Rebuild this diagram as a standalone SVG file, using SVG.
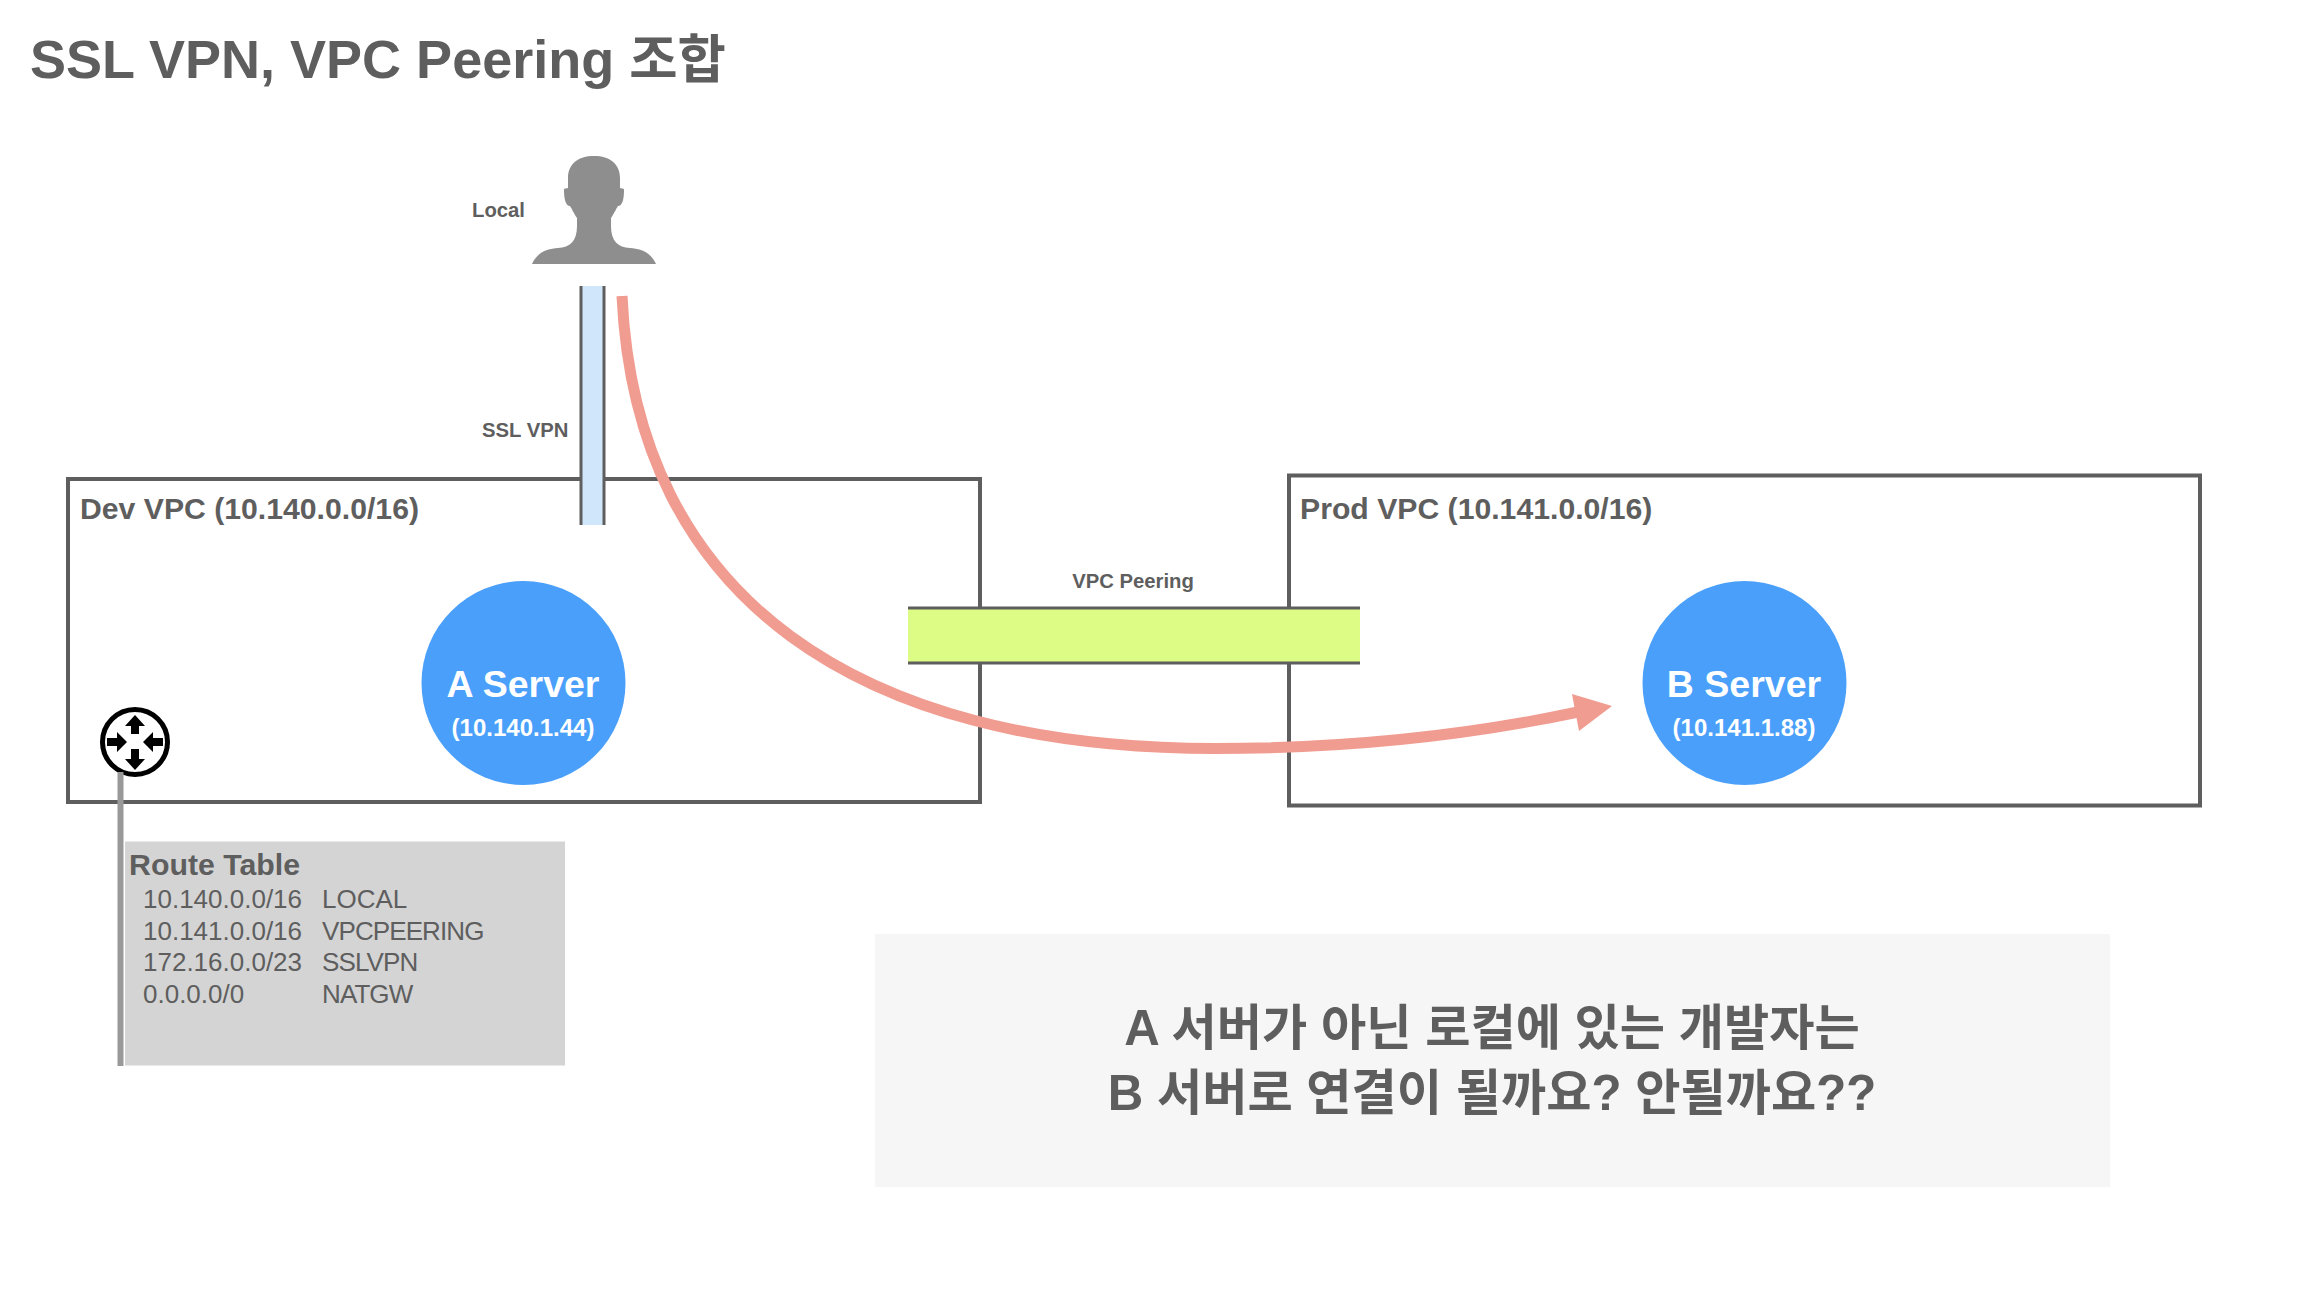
<svg xmlns="http://www.w3.org/2000/svg" width="2312" height="1290" viewBox="0 0 2312 1290">
<defs><style>
text{font-family:"Liberation Sans","Noto Sans CJK KR",sans-serif;fill:#5e5e5e}
.b{font-weight:700}
.vpc{fill:none;stroke:#5e5e5e;stroke-width:4}
.edge{stroke:#5e5e5e;stroke-width:3;fill:none}
.srv{fill:#4a9ffb}
.w{font-weight:700;text-anchor:middle}
.rt{font-size:26px}
.rn{font-size:26px;letter-spacing:-.9px}
.ra{fill:#000;stroke:none}
</style></defs>
<rect width="2312" height="1290" fill="#fff"/>
<text class="b" x="30" y="78" font-size="54">SSL VPN, VPC Peering <tspan font-size="52.500">조합</tspan></text>
<g id="dev-vpc"><rect class="vpc" x="68" y="479" width="912" height="323"/><text class="b" x="80" y="519" font-size="30.200">Dev VPC (10.140.0.0/16)</text></g>
<g id="prod-vpc"><rect class="vpc" x="1289" y="475.500" width="911" height="330"/><text class="b" x="1300" y="519" font-size="30.200">Prod VPC (10.141.0.0/16)</text></g>
<g id="local"><path fill="#8e8e8e" d="M532 264C538 251 548 249 558 248C570 247.500 577 241 577 226L577 218C573 212 572 209 570 206C566 206 564 200 564 190C564 188 565 189 568 188L568 178C568 164 578 156 594 156C610 156 620 164 620 178L620 188C623 189 624 188 624 190C624 200 622 206 618 206C616 209 615 212 611 218L611 226C611 241 618 247.500 630 248C640 249 650 251 656 264Z"/><text class="b" x="472" y="217" font-size="20.300">Local</text></g>
<g id="ssl-vpn"><rect x="580" y="286" width="24" height="239" fill="#d0e6fb"/><path class="edge" d="M581 286V525M604 286V525"/><text class="b" x="482" y="437" font-size="20.300">SSL VPN</text></g>
<g id="a-server"><circle class="srv" cx="523.500" cy="683" r="102"/><text class="w" x="523" y="697" font-size="37.500" style="fill:#fff">A Server</text><text class="w" x="523" y="736" font-size="24" style="fill:#fff">(10.140.1.44)</text></g>
<g id="b-server"><circle class="srv" cx="1744.500" cy="683" r="102"/><text class="w" x="1744" y="697" font-size="37.500" style="fill:#fff">B Server</text><text class="w" x="1744" y="736" font-size="24" style="fill:#fff">(10.141.1.88)</text></g>
<g id="vpc-peering"><rect x="908" y="608" width="452" height="55" fill="#dcfc85"/><path d="M908 608H1360M908 663H1360" stroke="#5e5e5e" stroke-width="3" fill="none"/><text class="b" x="1133" y="588" font-size="20.300" text-anchor="middle">VPC Peering</text></g>
<g id="router"><circle cx="135" cy="742" r="32.500" fill="#fff" stroke="#000" stroke-width="5"/><path class="ra" d="M135 715L145 726H139V734H131V726H125ZM135 770L145 759H139V749H131V759H125ZM127 742L117 732V738H107V746H117V752ZM143 742L153 732V738H163V746H153V752Z"/></g>
<g id="route-table"><rect x="125" y="841.500" width="440" height="224" fill="#d4d4d4"/><text class="b" x="129" y="875" font-size="30.300">Route Table</text>
<text class="rt" x="143" y="908">10.140.0.0/16</text><text class="rt" x="322" y="908">LOCAL</text>
<text class="rt" x="143" y="940">10.141.0.0/16</text><text class="rn" x="322" y="940">VPCPEERING</text>
<text class="rt" x="143" y="971">172.16.0.0/23</text><text class="rn" x="322" y="971">SSLVPN</text>
<text class="rt" x="143" y="1003">0.0.0.0/0</text><text class="rn" x="322" y="1003">NATGW</text></g>
<g id="question"><rect x="875" y="934" width="1235" height="253" fill="#f6f6f6"/><text class="b" x="1492" y="1045" font-size="49.200" text-anchor="middle">A 서버가 아닌 로컬에 있는 개발자는</text><text class="b" x="1492" y="1110" font-size="49.200" text-anchor="middle">B 서버로 연결이 될까요? 안될까요??</text></g>
<g id="connectors"><path d="M120.500 772V1066" stroke="#999" stroke-width="6" fill="none"/>
<path d="M622 296C636 600 860 748.500 1215 748.500C1350 748.500 1470 735 1578 712" fill="none" stroke="#f19c90" stroke-width="11"/><path d="M1612 706L1572 694L1579 731Z" fill="#f19c90"/></g>
</svg>
